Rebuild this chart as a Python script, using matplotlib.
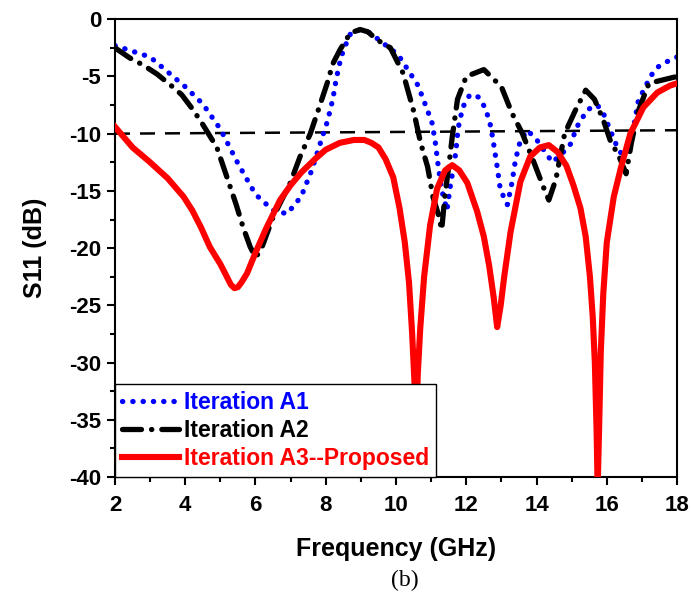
import numpy as np
import matplotlib
matplotlib.use("Agg")
from matplotlib import pyplot as plt
from matplotlib.ticker import MultipleLocator

# Iteration A1 (blue dotted)
f_a1 = [2.0, 2.5, 3.0, 3.5, 4.0, 4.5, 5.0, 5.5, 6.0, 6.5, 6.9, 7.3, 7.6, 7.9,
        8.05, 8.2, 8.3, 8.4, 8.5, 8.7, 8.98, 9.27, 9.55, 10.06, 10.63, 10.9,
        11.03, 11.12, 11.2, 11.3, 11.45, 11.54, 11.7, 11.77, 11.9, 12.1, 12.35,
        12.55, 12.7, 12.78, 12.88, 12.97, 13.17, 13.3, 13.4, 13.54, 13.74,
        14.02, 14.2, 14.45, 14.74, 14.97, 15.15, 15.45, 15.73, 15.9, 16.1,
        16.3, 16.47, 16.73, 16.9, 17.1, 17.24, 17.44, 17.72, 18.0]
s_a1 = [-2.3, -2.8, -3.3, -4.6, -5.9, -7.4, -9.6, -12.6, -15.3, -16.7, -17.0,
        -15.5, -13.2, -10.3, -8.9, -7.0, -5.2, -3.8, -2.7, -1.3, -0.9, -1.2,
        -1.9, -3.1, -5.8, -8.0, -9.1, -10.8, -12.8, -14.9, -16.7, -14.7, -11.7,
        -9.5, -7.7, -6.6, -6.8, -7.8, -9.4, -10.9, -12.9, -14.9, -16.2, -14.3,
        -12.3, -10.6, -9.7, -10.6, -11.4, -12.5, -11.7, -10.9, -9.4, -7.9,
        -7.5, -8.2, -9.7, -11.2, -12.0, -10.0, -7.1, -5.9, -5.0, -4.2, -3.7,
        -3.3]

# Iteration A2 (black dash-dot)
f_a2 = [2.0, 2.43, 2.8, 3.2, 3.6, 3.9, 4.22, 4.48, 4.9, 5.22, 5.45, 5.65, 5.85,
        6.0, 6.15, 6.33, 6.5, 6.99, 7.27, 7.56, 7.78, 8.04, 8.2, 8.4, 8.7,
        8.98, 9.2, 9.46, 9.84, 10.2, 10.5, 10.7, 10.9, 11.05, 11.2, 11.3,
        11.4, 11.5, 11.6, 11.75, 12.0, 12.5, 13.0, 13.3, 13.6, 13.9, 14.2,
        14.35, 14.55, 14.8, 15.1, 15.4, 15.65, 15.9, 16.1, 16.35, 16.55, 16.7,
        16.9, 17.2, 17.6, 18.0]
s_a2 = [-2.5, -3.4, -4.0, -4.8, -5.8, -6.6, -7.9, -9.1, -11.2, -14.1, -16.2,
        -18.2, -19.9, -20.8, -20.2, -18.7, -17.3, -14.3, -12.0, -10.0, -8.0,
        -5.6, -3.9, -2.7, -1.2, -0.9, -1.1, -1.8, -2.5, -4.7, -8.0, -10.8,
        -12.9, -15.5, -17.0, -18.4, -15.2, -12.9, -10.3, -7.0, -5.0, -4.4,
        -5.9, -8.2, -10.0, -12.3, -14.7, -15.8, -14.0, -10.0, -8.0, -6.2,
        -7.0, -8.8, -10.6, -12.0, -13.5, -10.8, -8.0, -5.6, -5.3, -5.0]

# Iteration A3--Proposed (red solid)
f_a3 = [2.0, 2.5, 3.0, 3.5, 3.95, 4.2, 4.45, 4.7, 5.0, 5.2, 5.3, 5.4, 5.5, 5.6,
        5.76, 6.0, 6.3, 6.7, 7.0, 7.3, 7.7, 8.0, 8.4, 8.8, 9.1, 9.3, 9.5, 9.7,
        9.92, 10.1, 10.25, 10.37, 10.46, 10.53, 10.57, 10.62, 10.69, 10.8,
        10.97, 11.17, 11.4, 11.6, 11.8, 12.03, 12.31, 12.5, 12.65, 12.78,
        12.88, 12.98, 13.08, 13.26, 13.54, 13.82, 14.1, 14.35, 14.6, 14.85,
        15.05, 15.25, 15.4, 15.52, 15.6, 15.66, 15.71, 15.74, 15.78, 15.83,
        15.9, 16.0, 16.2, 16.4, 16.67, 17.04, 17.44, 17.8, 18.0]
s_a3 = [-9.4, -11.2, -12.5, -13.9, -15.5, -16.7, -18.2, -19.9, -21.4, -22.6,
        -23.2, -23.5, -23.4, -23.0, -22.2, -20.4, -18.3, -15.8, -14.5, -13.4,
        -12.2, -11.4, -10.8, -10.55, -10.55, -10.8, -11.2, -12.2, -13.8, -16.5,
        -19.5, -23.0, -27.5, -32.0, -36.0, -31.0, -27.0, -22.5, -18.0, -14.8,
        -13.2, -12.75, -13.2, -14.3, -16.8, -19.0, -21.5, -24.3, -26.9, -25.0,
        -22.5, -18.6, -14.2, -12.0, -11.2, -11.0, -11.6, -12.8, -14.5, -16.5,
        -19.0, -22.5, -26.0, -30.0, -36.0, -41.0, -36.0, -29.0, -24.0, -19.5,
        -15.5, -13.0, -10.0, -7.7, -6.4, -5.8, -5.6]

# -10 dB reference line
f_ref = [2.0, 18.0]
s_ref = [-10.0, -9.7]

labels = ["Iteration A1", "Iteration A2", "Iteration A3--Proposed"]
colors = ["blue", "black", "red"]

plt.rcParams["font.family"] = ["Liberation Sans", "DejaVu Sans"]
plt.rcParams["font.weight"] = "bold"
plt.rcParams["axes.unicode_minus"] = False

fig = plt.figure(figsize=(6.91, 6.01), dpi=100)
ax = fig.add_axes([0.1664, 0.2063, 0.8134, 0.7617])

ax.plot(f_ref, s_ref, color="black", linewidth=1.8, linestyle=(0, (6, 4)), zorder=1)
ax.plot(f_a1, s_a1, color=colors[0], linewidth=3.8, linestyle=(0, (0.05, 1.9)),
        dash_capstyle="round", label=labels[0], zorder=2)
ax.plot(f_a2, s_a2, color=colors[1], linewidth=3.8, linestyle=(0, (3.6, 1.9, 0.05, 1.9)),
        dash_capstyle="round", label=labels[1], zorder=3)
ax.plot(f_a3, s_a3, color=colors[2], linewidth=4.4, label=labels[2], zorder=4)

ax.set_xlim(2, 18)
ax.set_ylim(-40, 0)
ax.xaxis.set_major_locator(MultipleLocator(2))
ax.xaxis.set_minor_locator(MultipleLocator(1))
ax.yaxis.set_major_locator(MultipleLocator(5))
ax.yaxis.set_minor_locator(MultipleLocator(2.5))
ax.tick_params(which="major", direction="out", length=6, width=1.5, labelsize=16,
               top=False, right=False, pad=4)
ax.tick_params(axis="x", which="major", pad=7)
ax.tick_params(which="minor", direction="out", length=3.5, width=1.5,
               top=False, right=False)
for sp in ax.spines.values():
    sp.set_linewidth(1.5)

ax.set_xlabel("Frequency (GHz)", fontsize=18, fontweight="bold", labelpad=15)
ax.set_ylabel("S11 (dB)", fontsize=18, fontweight="bold", labelpad=16)

leg = ax.legend(loc="lower left", fontsize=16.5, frameon=True, fancybox=False,
                borderaxespad=0, borderpad=0.3, handlelength=2.5, handletextpad=0.2,
                labelspacing=0.22, framealpha=1)
leg.get_frame().set_edgecolor("black")
leg.get_frame().set_linewidth(1.0)
for txt, c in zip(leg.get_texts(), colors):
    txt.set_color(c)

fig.text(0.586, 0.035, "(b)", fontsize=17, fontweight="normal",
         family="Liberation Serif", ha="center", va="center")

fig.savefig("out.png", dpi=100)
